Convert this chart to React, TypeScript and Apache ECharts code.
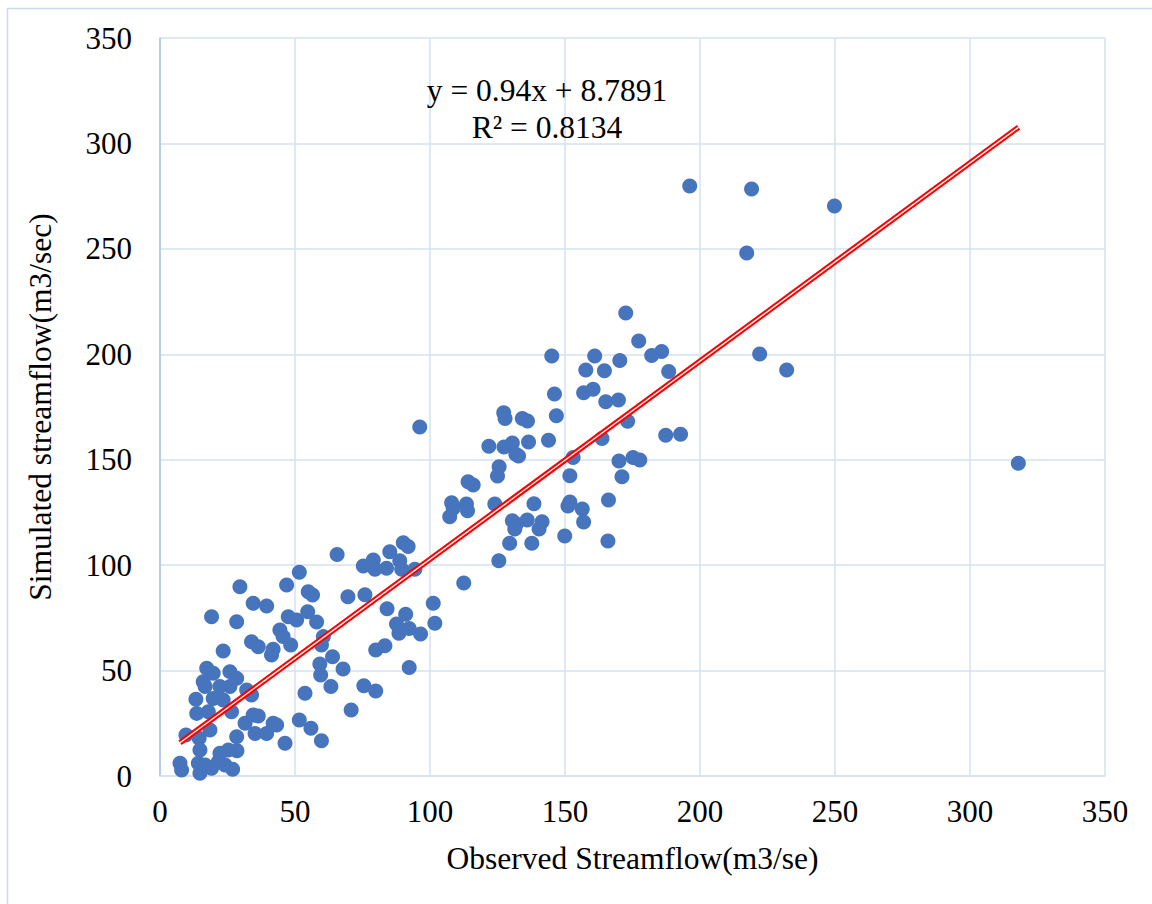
import React, { useEffect, useRef } from "react";
import * as echarts from "echarts";

const observed: number[] = [
  196.2, 219.1, 249.8, 217.3, 185.8, 182.1, 188.4, 222.1, 232.1, 187.3, 192.8, 317.9,
  172.5, 177.3, 161.0, 170.3, 157.7, 164.6, 156.9, 160.4, 165.1, 169.8, 173.2, 163.7,
  153.0, 170.0, 175.2, 177.7, 151.8, 171.1, 151.8, 151.1, 166.1, 145.1, 146.1, 146.8,
  143.9, 156.4, 156.9, 149.9, 165.9,
  127.3, 127.8, 134.2, 136.1, 121.8, 127.4, 130.5, 131.8, 132.8, 136.5, 125.6, 125.0,
  114.1, 116.0, 108.0, 108.6, 107.3, 113.5, 113.9, 124.0, 138.5, 130.5, 132.0, 131.4,
  136.0, 141.5, 140.4, 129.5, 137.7, 125.5, 112.5, 96.2,
  90.1, 91.9, 65.6, 85.1, 75.3, 79.0, 79.6, 83.9, 88.8, 89.5, 94.4, 69.6, 75.9, 84.1,
  91.0, 101.2, 87.6, 88.5, 92.3, 96.5, 101.8, 79.9, 83.3, 92.3, 63.9, 67.8, 60.5, 59.8,
  58.0, 59.2, 59.5, 63.3, 75.5, 79.9, 70.8, 59.8,
  51.6, 46.9, 54.9, 56.5, 29.6, 34.5, 39.5, 47.5, 50.6, 54.7, 44.4, 45.6, 48.4, 33.9,
  36.4, 41.3, 41.9, 53.7, 32.1, 33.9, 34.5, 36.4, 41.9, 43.2, 31.5, 35.2, 39.5, 51.6,
  55.9, 46.3, 28.5,
  23.4, 17.3, 19.7, 25.9, 28.4, 16.0, 16.7, 22.2, 25.9, 13.3, 19.7, 23.4, 13.6, 17.9,
  26.5, 9.6, 18.5, 14.5, 14.8, 28.4, 22.2, 25.3, 7.4, 8.0, 14.2, 14.8, 16.7, 19.1, 21.6,
  24.1, 26.9, 19.1, 28.4,
];

const simulated: number[] = [
  279.8, 278.4, 270.3, 248.0, 201.3, 199.4, 191.8, 200.1, 192.5, 161.6, 162.1, 148.3,
  219.6, 206.3, 199.2, 197.0, 192.5, 192.2, 181.8, 183.4, 177.5, 178.3, 168.2, 160.1,
  151.0, 149.4, 151.0, 149.9, 142.4, 141.9, 130.0, 128.0, 130.9, 199.2, 181.2, 170.9,
  159.2, 126.6, 120.5, 113.8, 111.4,
  172.3, 169.6, 169.6, 168.4, 156.4, 156.0, 157.9, 152.6, 151.8, 158.4, 146.7, 142.3,
  139.6, 138.0, 129.6, 127.0, 123.0, 129.0, 125.8, 129.0, 129.1, 121.1, 119.5, 117.1,
  121.4, 120.6, 117.1, 110.4, 110.4, 102.1, 91.5, 165.5,
  110.6, 108.8, 105.0, 106.4, 99.6, 102.4, 98.0, 98.5, 102.1, 98.0, 98.0, 85.0, 86.0, 79.3,
  76.7, 81.9, 72.1, 67.7, 70.0, 67.3, 72.4, 59.8, 61.8, 51.5, 56.6, 50.7, 66.1, 62.1,
  73.0, 53.1, 47.9, 42.4, 42.8, 40.3, 31.3, 16.7,
  96.6, 90.6, 87.4, 85.8, 89.8, 81.9, 80.6, 75.5, 74.0, 77.9, 69.2, 66.1, 62.1, 63.7,
  61.3, 57.4, 60.1, 39.2, 40.8, 38.4, 28.9, 28.5, 25.0, 24.2, 25.0, 20.2, 20.2, 26.6,
  22.6, 15.5, 12.0,
  59.3, 51.1, 48.7, 49.5, 46.3, 44.7, 42.4, 42.4, 42.4, 36.4, 36.8, 36.0, 29.7, 30.5,
  30.5, 19.4, 21.8, 17.9, 12.3, 18.6, 10.8, 12.3, 6.0, 2.8, 6.0, 1.3, 5.2, 3.7, 6.8,
  5.2, 3.2, 75.5, 73.2,
];

const axisTicks: number[] = [0, 50, 100, 150, 200, 250, 300, 350];
const trendSlope = 0.94;
const trendIntercept = 8.7891;
const trendRange: number[] = [7.4, 318];
const equationText = "y = 0.94x + 8.7891";
const r2Text = "R² = 0.8134";

export default function App() {
  const ref = useRef<HTMLDivElement>(null);
  useEffect(() => {
    if (!ref.current) return;
    const chart = echarts.init(ref.current, undefined, { renderer: "svg" });
    const points = observed.map((x, i) => [x, simulated[i]]);
    const trend = trendRange.map((x) => [x, trendSlope * x + trendIntercept]);
    const font = "'Liberation Serif', 'Times New Roman', serif";
    const gridColor = "#D5E1F2";
    chart.setOption({
      animation: false,
      backgroundColor: "#ffffff",
      textStyle: { fontFamily: font },
      grid: { left: 160, right: 47, top: 38, bottom: 128, containLabel: false },
      xAxis: {
        type: "value",
        min: axisTicks[0],
        max: axisTicks[axisTicks.length - 1],
        interval: 50,
        name: "Observed Streamflow(m3/se)",
        nameLocation: "middle",
        nameGap: 66,
        nameTextStyle: { fontFamily: font, fontSize: 31.5, color: "#000" },
        axisLine: { show: true, lineStyle: { color: gridColor, width: 1.5 } },
        axisTick: { show: false },
        axisLabel: { fontFamily: font, fontSize: 31, color: "#000", margin: 20 },
        splitLine: { show: true, lineStyle: { color: gridColor, width: 1.5 } },
      },
      yAxis: {
        type: "value",
        min: axisTicks[0],
        max: axisTicks[axisTicks.length - 1],
        interval: 50,
        name: "Simulated streamflow(m3/sec)",
        nameLocation: "middle",
        nameGap: 104,
        nameRotate: 90,
        nameTextStyle: { fontFamily: font, fontSize: 31.5, color: "#000" },
        axisLine: { show: true, lineStyle: { color: "#A9C3E8", width: 1.5 } },
        axisTick: { show: false },
        axisLabel: { fontFamily: font, fontSize: 31, color: "#000", margin: 28 },
        splitLine: { show: true, lineStyle: { color: gridColor, width: 1.5 } },
      },
      graphic: [
        {
          type: "rect",
          left: 5,
          top: 6,
          shape: { x: 0, y: 0, width: 1160, height: 920 },
          style: { fill: "none", stroke: "#C9D9EF", lineWidth: 1.5 },
          silent: true,
        },
        {
          type: "text",
          x: 547,
          y: 90,
          style: {
            text: equationText,
            fontFamily: font,
            fontSize: 31.5,
            fill: "#000",
            align: "center",
            verticalAlign: "middle",
          },
          z: 100,
        },
        {
          type: "text",
          x: 547,
          y: 127,
          style: {
            text: r2Text,
            fontFamily: font,
            fontSize: 31.5,
            fill: "#000",
            align: "center",
            verticalAlign: "middle",
          },
          z: 100,
        },
      ],
      series: [
        {
          type: "scatter",
          data: points,
          symbol: "circle",
          symbolSize: 15,
          itemStyle: { color: "#4674BD", opacity: 1 },
          z: 2,
        },
        {
          type: "line",
          data: trend,
          symbol: "none",
          lineStyle: { color: "#FF0000", width: 5.5 },
          z: 3,
        },
        {
          type: "line",
          data: trend,
          symbol: "none",
          lineStyle: { color: "#FFFFFF", width: 1.4 },
          z: 4,
        },
      ],
    });
    return () => chart.dispose();
  }, []);
  return (
    <div
      ref={ref}
      style={{ position: "absolute", left: 0, top: 0, width: 1152, height: 904 }}
    />
  );
}
